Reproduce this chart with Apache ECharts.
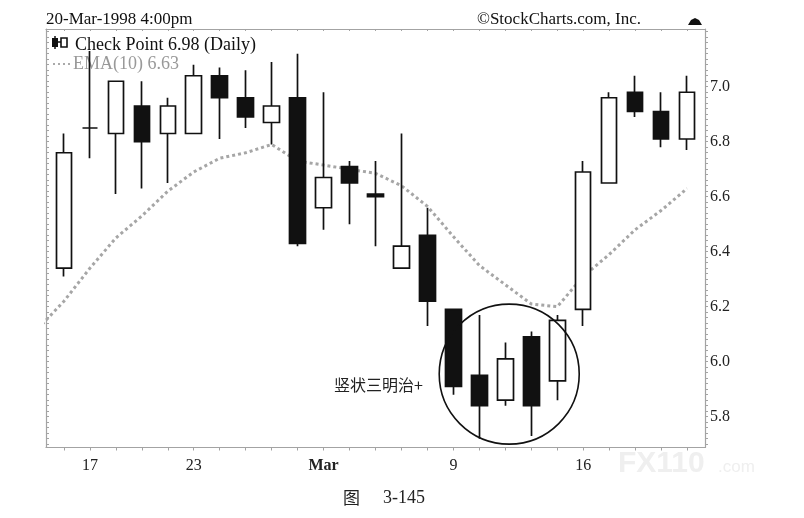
<!DOCTYPE html>
<html>
<head>
<meta charset="utf-8">
<script src="https://cdn.jsdelivr.net/npm/echarts@6/dist/echarts.min.js"></script>
<style>html,body{margin:0;padding:0;background:#fff;}#c{width:804px;height:518px;}</style>
</head>
<body>
<div id="c"></div>
<script>
// trading days 13-Feb-1998 .. 20-Mar-1998
const dates = ['02-13','02-17','02-18','02-19','02-20','02-23','02-24','02-25','02-26','02-27',
  '03-02','03-03','03-04','03-05','03-06','03-09','03-10','03-11','03-12','03-13',
  '03-16','03-17','03-18','03-19','03-20'];
const opens  = [6.34,6.85,6.83,6.93,6.83,6.83,7.04,6.96,6.87,6.96,6.56,6.71,6.61,6.34,6.46,6.19,5.95,5.86,6.09,5.93,6.19,6.65,6.98,6.91,6.81];
const closes = [6.76,6.85,7.02,6.80,6.93,7.04,6.96,6.89,6.93,6.43,6.67,6.65,6.60,6.42,6.22,5.91,5.84,6.01,5.84,6.15,6.69,6.96,6.91,6.81,6.98];
const lows   = [6.31,6.74,6.61,6.63,6.65,6.83,6.81,6.85,6.79,6.42,6.48,6.50,6.42,6.34,6.13,5.88,5.72,5.84,5.73,5.86,6.13,6.65,6.89,6.78,6.77];
const highs  = [6.83,7.13,7.02,7.02,6.96,7.08,7.07,7.06,7.09,7.12,6.98,6.73,6.73,6.83,6.56,6.19,6.17,6.07,6.11,6.17,6.73,6.98,7.04,6.98,7.04];
// EMA(10): first value is the prior session (12-Feb), then one per day above
const emaPrior = 6.12;
const ema = [6.22,6.34,6.45,6.53,6.62,6.69,6.74,6.76,6.79,6.73,6.715,6.70,6.685,6.64,6.565,6.455,6.35,6.28,6.21,6.20,6.31,6.39,6.48,6.55,6.63];
const xLabelIdx = [1,5,10,15,20];
const xLabels = ['17','23','Mar','9','16'];
const yLabels = [5.8,6.0,6.2,6.4,6.6,6.8,7.0];

const candleData = dates.map((d,i)=>[i, opens[i], closes[i], lows[i], highs[i]]);
const emaData = [[-1, emaPrior]].concat(ema.map((v,i)=>[i, v]));
const dayTicks = dates.map((d,i)=>i);
const yTicks = [];
for (let k = 285; k <= 360; k++) yTicks.push(+(k*0.02).toFixed(2));

const YMIN = 5.688, YMAX = 7.21, XMIN = -0.69, XMAX = 24.69;
const serif = '"Liberation Serif","DejaVu Serif",serif';
const frameColor = '#a3a3a3';

const chart = echarts.init(document.getElementById('c'));
const option = {
  animation: false,
  backgroundColor: '#fff',
  grid: {left: 46, right: 99, top: 29, bottom: 70.5, show: false},
  xAxis: [{
    type: 'value', min: XMIN, max: XMAX, position: 'bottom',
    axisLine: {show: true, onZero: false, lineStyle: {color: frameColor, width: 1.2}},
    axisTick: {show: true, customValues: dayTicks, length: 3, lineStyle: {color: frameColor}},
    axisLabel: {
      customValues: xLabelIdx, margin: 10, color: '#222', fontFamily: serif, fontSize: 16,
      formatter: v => { const j = xLabelIdx.indexOf(Math.round(v)); const t = j >= 0 ? xLabels[j] : ''; return t === 'Mar' ? '{b|Mar}' : t; },
      rich: {b: {fontWeight: 'bold', fontFamily: serif, fontSize: 16, color: '#222'}}
    },
    splitLine: {show: false}
  }, {
    type: 'value', min: XMIN, max: XMAX, position: 'top',
    axisLine: {show: true, onZero: false, lineStyle: {color: frameColor, width: 1.2}},
    axisTick: {show: true, customValues: dayTicks, length: 2, inside: true, lineStyle: {color: frameColor}},
    axisLabel: {show: false}, splitLine: {show: false}
  }],
  yAxis: [{
    type: 'value', min: YMIN, max: YMAX, position: 'right', scale: true,
    axisLine: {show: true, onZero: false, lineStyle: {color: frameColor, width: 1.2}},
    axisTick: {show: true, customValues: yTicks, length: 3, lineStyle: {color: frameColor}},
    axisLabel: {customValues: yLabels, formatter: v => v.toFixed(1), margin: 5, color: '#222', fontFamily: serif, fontSize: 16},
    splitLine: {show: false}
  }, {
    type: 'value', min: YMIN, max: YMAX, position: 'left', scale: true,
    axisLine: {show: true, onZero: false, lineStyle: {color: frameColor, width: 1.2}},
    axisTick: {show: true, customValues: yTicks, length: 3, inside: true, lineStyle: {color: frameColor}},
    axisLabel: {show: false}, splitLine: {show: false}
  }],
  series: [{
    type: 'line', data: emaData, xAxisIndex: 0, yAxisIndex: 0, symbol: 'none', clip: true,
    lineStyle: {color: '#a6a6a6', width: 3, type: [3, 3]}, z: 1
  }, {
    type: 'candlestick', data: candleData, xAxisIndex: 0, yAxisIndex: 0,
    encode: {x: 0, y: [1, 2, 3, 4]}, barWidth: 16, clip: true,
    itemStyle: {color: '#ffffff', color0: '#111111', borderColor: '#111111', borderColor0: '#111111', borderWidth: 1.7},
    z: 2
  }],
  graphic: [
    {id: 'date', type: 'text', left: 46, top: 11, style: {text: '20-Mar-1998 4:00pm', font: '17px ' + serif, fill: '#111'}},
    {id: 'copy', type: 'text', left: 477, top: 11, style: {text: '\u00A9StockCharts.com, Inc.', font: '17px ' + serif, fill: '#111'}},
    {id: 'hat', type: 'polygon', shape: {points: [[688,25],[691,20],[695,18],[699,20],[702,25]]}, style: {fill: '#111'}},
    {id: 'ic1', type: 'rect', shape: {x: 52, y: 38, width: 6, height: 9}, style: {fill: '#111'}},
    {id: 'ic2', type: 'rect', shape: {x: 61, y: 38, width: 6, height: 9}, style: {fill: '#fff', stroke: '#111', lineWidth: 1.6}},
    {id: 'ic3', type: 'line', shape: {x1: 55, y1: 36, x2: 55, y2: 49}, style: {stroke: '#111', lineWidth: 1.5}},
    {id: 'ic4', type: 'line', shape: {x1: 58, y1: 42, x2: 61, y2: 42}, style: {stroke: '#111', lineWidth: 1.5}},
    {id: 'leg1', type: 'text', left: 75, top: 36, style: {text: 'Check Point 6.98 (Daily)', font: '18px ' + serif, fill: '#111'}},
    {id: 'legd', type: 'line', shape: {x1: 53, y1: 64, x2: 71, y2: 64}, style: {stroke: '#aaa', lineWidth: 2, lineDash: [2, 3]}},
    {id: 'leg2', type: 'text', left: 73, top: 55, style: {text: 'EMA(10) 6.63', font: '18px ' + serif, fill: '#999'}},
    {id: 'note', type: 'text', right: 804 - 423, top: 377, style: {text: '竖状三明治+', font: '16px "Noto Sans CJK SC"', fill: '#222'}},
    {id: 'wm1', type: 'text', left: 618, top: 449, style: {text: 'FX110', font: 'bold 30px "Liberation Sans"', fill: '#efefef'}, z: 0},
    {id: 'wm2', type: 'text', left: 718, top: 459, style: {text: '.com', font: '17px "Liberation Sans"', fill: '#efefef'}, z: 0},
    {id: 'cap1', type: 'text', left: 343, top: 489, style: {text: '图', font: '17px "Noto Sans CJK SC"', fill: '#222'}},
    {id: 'cap2', type: 'text', left: 383, top: 489, style: {text: '3-145', font: '18px ' + serif, fill: '#222'}}
  ]
};
chart.setOption(option);
const ctr = chart.convertToPixel({xAxisIndex: 0, yAxisIndex: 0}, [17.15, 5.955]);
chart.setOption({graphic: [{id: 'ring', type: 'circle', shape: {cx: ctr[0], cy: ctr[1], r: 70}, style: {fill: 'none', stroke: '#111', lineWidth: 1.6}, z: 100}]});
</script>
</body>
</html>
